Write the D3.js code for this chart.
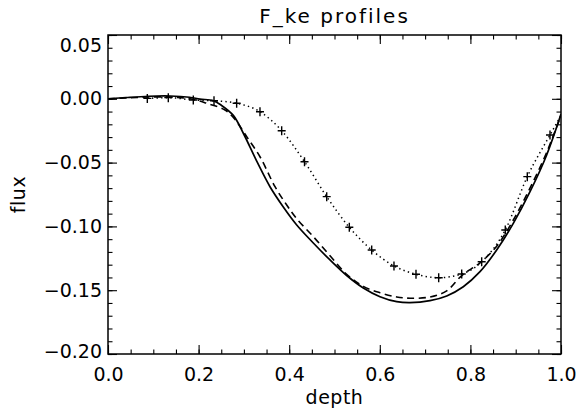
<!DOCTYPE html>
<html><head><meta charset="utf-8">
<script src="https://cdn.jsdelivr.net/npm/d3@7"></script>
<style>body{margin:0;background:#fff}</style>
</head><body><svg id="c" width="577" height="412"></svg>
<script>
const solidDepth = [0, 0.04, 0.09, 0.137, 0.18, 0.203, 0.2325, 0.25, 0.2766, 0.2987, 0.3283, 0.3576, 0.387, 0.4166, 0.4532, 0.4901, 0.5269, 0.5636, 0.6004, 0.6373, 0.6667, 0.7108, 0.7477, 0.7843, 0.8212, 0.858, 0.8947, 0.9316, 0.9684, 1.0];
const solidFlux = [0, 0.001, 0.002, 0.0022, 0.0012, -0.0002, -0.0015, -0.005, -0.013, -0.027, -0.0489, -0.0689, -0.0848, -0.0989, -0.113, -0.1263, -0.1385, -0.1483, -0.1551, -0.159, -0.1598, -0.1582, -0.1545, -0.1473, -0.1355, -0.1185, -0.0976, -0.0728, -0.044, -0.012];
const dashedDepth = [0, 0.05, 0.10, 0.15, 0.19, 0.2179, 0.2583, 0.28, 0.3062, 0.3355, 0.3687, 0.3945, 0.4166, 0.4532, 0.4901, 0.5269, 0.5636, 0.6004, 0.6373, 0.6667, 0.7108, 0.7477, 0.781, 0.8212, 0.858, 0.8947, 0.9316, 0.9684, 1.0];
const dashedFlux = [0, 0.0008, 0.0015, 0.0012, -0.0005, -0.0035, -0.0088, -0.016, -0.0297, -0.0454, -0.0689, -0.0832, -0.094, -0.108, -0.123, -0.1375, -0.147, -0.152, -0.1553, -0.1563, -0.1553, -0.1505, -0.1385, -0.1285, -0.1155, -0.095, -0.070, -0.042, -0.013];
const dottedDepth = [0.0868, 0.1331, 0.1883, 0.234, 0.284, 0.3355, 0.3834, 0.4338, 0.4828, 0.5327, 0.5821, 0.6313, 0.6799, 0.730, 0.7808, 0.8249, 0.877, 0.9256, 0.9757, 1.0];
const dottedFlux = [0.0003, 0.0009, -0.0009, -0.0015, -0.0035, -0.0101, -0.025, -0.0493, -0.0767, -0.1007, -0.1185, -0.131, -0.1375, -0.1402, -0.1373, -0.1277, -0.1028, -0.061, -0.0284, -0.013];
const dottedMarked = [true, true, true, true, true, true, true, true, true, true, true, true, true, true, true, true, true, true, true, false];
const xTicks = [0, 0.2, 0.4, 0.6, 0.8, 1.0];
const xTickLabels = ["0.0", "0.2", "0.4", "0.6", "0.8", "1.0"];
const yTicks = [0.05, 0, -0.05, -0.1, -0.15, -0.2];
const yTickLabels = ["0.05", "0.00", "\u22120.05", "\u22120.10", "\u22120.15", "\u22120.20"];
const titleText = "F_ke profiles";
const xTitle = "depth";
const yTitle = "flux";

const W = 577, H = 412;
const L = 108, R = 561, T = 35, B = 354;
const FONT = "DejaVu Sans, Verdana, sans-serif";
const svg = d3.select("#c");
svg.append("rect").attr("width", W).attr("height", H).attr("fill", "#fff");

const x = d3.scaleLinear().domain([0, 1]).range([L, R]);
const y = d3.scaleLinear().domain([-0.2, 0.05]).range([B, T]);

function tickGroup(axis, tx, ty) {
  const g = svg.append("g").attr("transform", `translate(${tx},${ty})`).call(axis);
  g.select(".domain").remove();
  g.selectAll("line").attr("stroke", "#000").attr("stroke-width", 1.1);
  g.selectAll("text").remove();
  return g;
}
const xMinor = d3.range(0, 20.5).map(i => i * 0.05);
const yMinor = d3.range(0, 25.5).map(i => -0.2 + i * 0.01);
tickGroup(d3.axisBottom(x).tickValues(xMinor).tickSize(-4.5), 0, B);
tickGroup(d3.axisTop(x).tickValues(xMinor).tickSize(-4.5), 0, T);
tickGroup(d3.axisBottom(x).tickValues(xTicks).tickSize(-9), 0, B);
tickGroup(d3.axisTop(x).tickValues(xTicks).tickSize(-9), 0, T);
tickGroup(d3.axisLeft(y).tickValues(yMinor).tickSize(-4.5), L, 0);
tickGroup(d3.axisRight(y).tickValues(yMinor).tickSize(-4.5), R, 0);
tickGroup(d3.axisLeft(y).tickValues(yTicks).tickSize(-9), L, 0);
tickGroup(d3.axisRight(y).tickValues(yTicks).tickSize(-9), R, 0);

// tick labels
const gx = svg.append("g").attr("transform", `translate(0,${B})`)
  .call(d3.axisBottom(x).tickValues(xTicks).tickSize(0).tickPadding(14)
    .tickFormat((d, i) => xTickLabels[i]));
gx.select(".domain").remove();
gx.selectAll("text").attr("font-family", FONT).attr("font-size", 19).attr("fill", "#000");

const gy = svg.append("g").attr("transform", `translate(${L},0)`)
  .call(d3.axisLeft(y).tickValues(yTicks).tickSize(0).tickPadding(6)
    .tickFormat((d, i) => yTickLabels[i]));
gy.select(".domain").remove();
gy.selectAll("text").attr("font-family", FONT).attr("font-size", 19).attr("fill", "#000")
  .attr("dy", d => d === 0.05 ? "0.85em" : (d === -0.2 ? "0.2em" : "0.32em"));

// frame
svg.append("rect").attr("x", L).attr("y", T).attr("width", R - L).attr("height", B - T)
  .attr("fill", "none").attr("stroke", "#000").attr("stroke-width", 1.5);

const clip = svg.append("clipPath").attr("id", "pc").append("rect")
  .attr("x", L).attr("y", T).attr("width", R - L).attr("height", B - T);
const plot = svg.append("g").attr("clip-path", "url(#pc)");

const smooth = d3.line().x(d => x(d[0])).y(d => y(d[1])).curve(d3.curveCatmullRom);
const straight = d3.line().x(d => x(d[0])).y(d => y(d[1])).curve(d3.curveMonotoneX);

const solid = solidDepth.map((d, i) => [d, solidFlux[i]]);
const dashed = dashedDepth.map((d, i) => [d, dashedFlux[i]]);
const dotted = dottedDepth.map((d, i) => [d, dottedFlux[i]]);

plot.append("path").attr("d", smooth(solid)).attr("fill", "none")
  .attr("stroke", "#000").attr("stroke-width", 1.7);
plot.append("path").attr("d", smooth(dashed)).attr("fill", "none")
  .attr("stroke", "#000").attr("stroke-width", 1.6).attr("stroke-dasharray", "7,4.5");
plot.append("path").attr("d", straight(dotted)).attr("fill", "none")
  .attr("stroke", "#000").attr("stroke-width", 1.5).attr("stroke-dasharray", "1.4,3.2");
plot.selectAll("path.mk").data(dotted.filter((d, i) => dottedMarked[i])).enter().append("path")
  .attr("class", "mk")
  .attr("d", d => { const cx = x(d[0]), cy = y(d[1]); return `M${cx - 4},${cy}H${cx + 4}M${cx},${cy - 4.5}V${cy + 4.5}`; })
  .attr("stroke", "#000").attr("stroke-width", 1.4).attr("fill", "none");

// titles
svg.append("text").attr("x", (L + R) / 2).attr("y", 23).attr("text-anchor", "middle")
  .attr("font-family", FONT).attr("font-size", 20).attr("letter-spacing", 2).text(titleText);
svg.append("text").attr("x", (L + R) / 2).attr("y", 404).attr("text-anchor", "middle")
  .attr("font-family", FONT).attr("font-size", 19).attr("letter-spacing", 0.5).text(xTitle);
svg.append("text").attr("transform", `translate(25,${(T + B) / 2}) rotate(-90)`).attr("text-anchor", "middle")
  .attr("font-family", FONT).attr("font-size", 19).attr("letter-spacing", 0.5).text(yTitle);
</script></body></html>
